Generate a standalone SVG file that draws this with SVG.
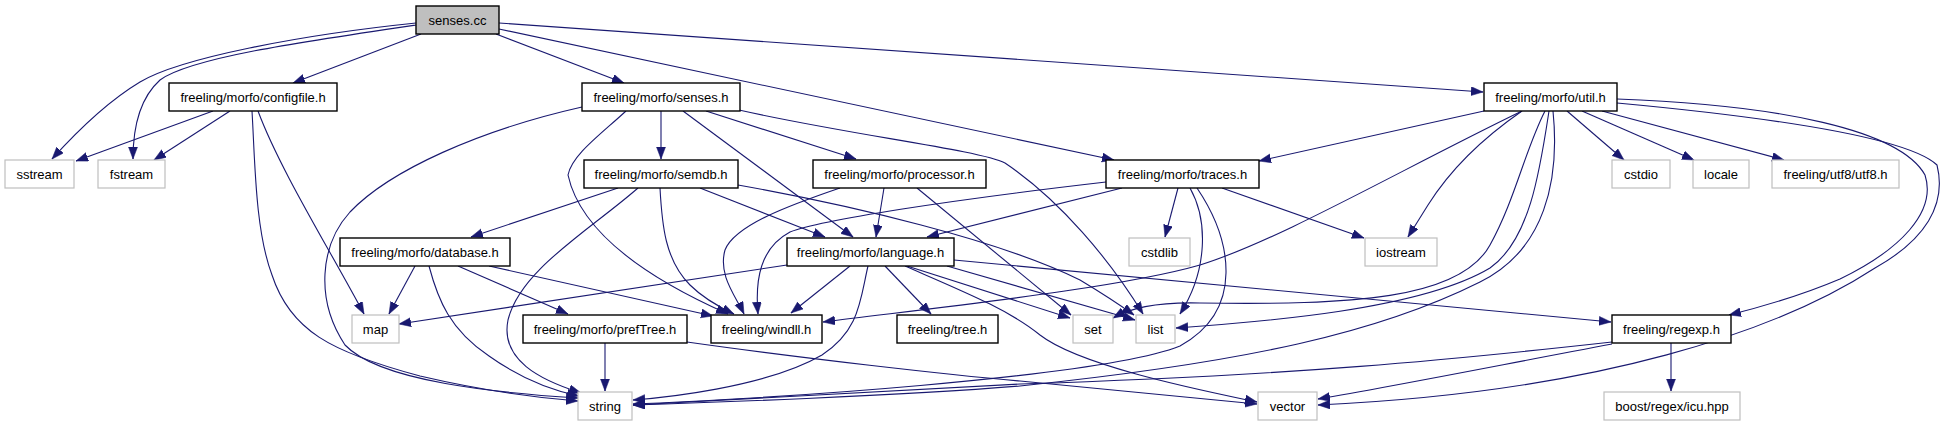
<svg xmlns="http://www.w3.org/2000/svg" width="1946" height="427" viewBox="0 0 1946 427">
<style>
.n rect{fill:#fff;stroke:#000;stroke-width:1.4}
.n.ext rect{stroke:#bfbfbf;stroke-width:1.2}
.n.root rect{fill:#bfbfbf}
.n text{font-family:"Liberation Sans",Arial,sans-serif;font-size:13px;fill:#000;text-anchor:middle}
.e path{fill:none;stroke:#191970;stroke-width:1.1;marker-end:url(#ah)}
</style>
<defs>
<marker id="ah" markerUnits="userSpaceOnUse" markerWidth="13" markerHeight="10" refX="12" refY="4.5" orient="auto">
<path d="M0,0 L12,4.5 L0,9 z" fill="#191970" stroke="#191970" stroke-width="0.5"/>
</marker>
</defs>
<rect width="1946" height="427" fill="#fff"/>
<g id="edges" class="e">
<!-- senses.cc -->
<path d="M416,23 C300,35 180,58 140,82 C110,100 80,128 52,159"/>
<path d="M416,25 C300,42 190,58 160,80 C140,98 133,125 133,159"/>
<path d="M421,34 L293,83"/>
<path d="M496,34 L624,83"/>
<path d="M499,29 L1114,160"/>
<path d="M499,23 L1483,92"/>
<!-- configfile.h -->
<path d="M213,111 L76,161"/>
<path d="M230,111 L154,160"/>
<path d="M252,111 C255,160 255,230 272,275 C290,330 330,352 420,376 C480,390 540,398 578,401"/>
<path d="M258,111 C280,170 330,250 364,314"/>
<!-- senses.h -->
<path d="M582,107 C480,130 390,170 350,212 C320,245 315,300 345,345 C380,382 500,393 578,398"/>
<path d="M626,111 C600,135 572,155 568,175 C580,230 640,275 728,314"/>
<path d="M661,111 L661,159"/>
<path d="M683,111 L853,237"/>
<path d="M706,111 L856,159"/>
<path d="M739,110 C850,135 980,150 1005,163 C1060,200 1110,260 1143,314"/>
<!-- semdb.h -->
<path d="M618,188 L471,237"/>
<path d="M638,188 C590,230 520,270 508,320 C500,360 540,380 581,393"/>
<path d="M660,188 C662,225 665,260 690,285 C700,295 715,305 734,314"/>
<path d="M700,188 L825,237"/>
<path d="M738,185 C850,205 1000,240 1080,280 C1100,292 1120,305 1134,315"/>
<!-- processor.h -->
<path d="M884,188 L876,237"/>
<path d="M917,188 L1071,315"/>
<path d="M840,188 C790,205 735,225 725,250 C718,275 735,295 744,314"/>
<!-- traces.h -->
<path d="M1106,182 C950,200 820,220 790,232 C760,248 755,280 758,314"/>
<path d="M1122,188 L927,237"/>
<path d="M1178,188 L1165,237"/>
<path d="M1190,188 C1208,220 1208,270 1180,314"/>
<path d="M1222,188 L1364,238"/>
<path d="M1197,188 C1232,240 1245,310 1180,346 C1100,378 750,400 633,404"/>
<!-- util.h -->
<path d="M1484,111 L1259,161"/>
<path d="M1522,111 C1400,170 1280,240 1200,265 C1120,288 950,306 823,322"/>
<path d="M1522,111 C1480,140 1450,170 1428,205 L1408,237"/>
<path d="M1545,111 C1525,150 1515,200 1490,245 C1460,300 1350,305 1200,303 C1160,302 1130,308 1113,318"/>
<path d="M1549,111 C1540,170 1530,240 1490,268 C1420,310 1260,322 1176,328"/>
<path d="M1553,111 C1560,180 1545,250 1480,282 C1380,332 1250,362 1020,386 C900,396 700,403 633,405"/>
<path d="M1567,111 L1624,160"/>
<path d="M1582,111 L1694,160"/>
<path d="M1602,111 L1784,160"/>
<path d="M1617,99 C1780,105 1900,130 1925,175 C1937,212 1900,250 1840,279 C1800,296 1765,306 1729,315"/>
<path d="M1617,103 C1800,120 1910,140 1937,165 C1947,205 1925,240 1875,268 C1780,330 1600,392 1318,405"/>
<!-- database.h -->
<path d="M415,266 L389,314"/>
<path d="M429,266 C438,300 450,330 489,356 C520,378 550,390 579,396"/>
<path d="M458,266 L568,314"/>
<path d="M489,266 L713,316"/>
<!-- language.h -->
<path d="M787,265 L399,324"/>
<path d="M850,266 L791,313"/>
<path d="M885,266 L931,314"/>
<path d="M907,266 L1070,318"/>
<path d="M947,266 L1135,320"/>
<path d="M868,266 C860,300 860,330 822,355 C765,388 660,398 633,400"/>
<path d="M905,266 C960,290 1010,310 1040,335 C1080,366 1200,390 1257,402"/>
<path d="M954,260 L1611,322"/>
<!-- prefTree.h -->
<path d="M605,343 L605,391"/>
<path d="M687,342 C800,358 950,375 1020,381 C1120,390 1200,398 1257,404"/>
<!-- regexp.h -->
<path d="M1612,342 C1450,360 1300,375 1020,384 C850,392 700,402 633,405"/>
<path d="M1612,344 C1500,365 1400,385 1318,399"/>
<path d="M1671,343 L1671,391"/>
</g>
<g id="senses_cc" class="n root"><rect x="416" y="6" width="83" height="28"/><text x="457.5" y="24.5">senses.cc</text></g>
<g id="configfile_h" class="n"><rect x="169" y="83" width="168" height="28"/><text x="253" y="101.5">freeling/morfo/configfile.h</text></g>
<g id="senses_h" class="n"><rect x="582" y="83" width="158" height="28"/><text x="661" y="101.5">freeling/morfo/senses.h</text></g>
<g id="util_h" class="n"><rect x="1484" y="83" width="133" height="28"/><text x="1550.5" y="101.5">freeling/morfo/util.h</text></g>
<g id="sstream" class="n ext"><rect x="5" y="160" width="69" height="28"/><text x="39.5" y="178.5">sstream</text></g>
<g id="fstream" class="n ext"><rect x="98" y="160" width="67" height="28"/><text x="131.5" y="178.5">fstream</text></g>
<g id="semdb_h" class="n"><rect x="584" y="160" width="154" height="28"/><text x="661" y="178.5">freeling/morfo/semdb.h</text></g>
<g id="processor_h" class="n"><rect x="813" y="160" width="173" height="28"/><text x="899.5" y="178.5">freeling/morfo/processor.h</text></g>
<g id="traces_h" class="n"><rect x="1106" y="160" width="153" height="28"/><text x="1182.5" y="178.5">freeling/morfo/traces.h</text></g>
<g id="cstdio" class="n ext"><rect x="1612" y="160" width="58" height="28"/><text x="1641" y="178.5">cstdio</text></g>
<g id="locale" class="n ext"><rect x="1693" y="160" width="56" height="28"/><text x="1721" y="178.5">locale</text></g>
<g id="utf8_h" class="n ext"><rect x="1772" y="160" width="127" height="28"/><text x="1835.5" y="178.5">freeling/utf8/utf8.h</text></g>
<g id="database_h" class="n"><rect x="340" y="238" width="170" height="28"/><text x="425" y="256.5">freeling/morfo/database.h</text></g>
<g id="language_h" class="n"><rect x="787" y="238" width="167" height="28"/><text x="870.5" y="256.5">freeling/morfo/language.h</text></g>
<g id="cstdlib" class="n ext"><rect x="1129" y="238" width="61" height="28"/><text x="1159.5" y="256.5">cstdlib</text></g>
<g id="iostream" class="n ext"><rect x="1365" y="238" width="72" height="28"/><text x="1401" y="256.5">iostream</text></g>
<g id="map" class="n ext"><rect x="352" y="315" width="47" height="28"/><text x="375.5" y="333.5">map</text></g>
<g id="prefTree_h" class="n"><rect x="523" y="315" width="164" height="28"/><text x="605" y="333.5">freeling/morfo/prefTree.h</text></g>
<g id="windll_h" class="n"><rect x="711" y="315" width="111" height="28"/><text x="766.5" y="333.5">freeling/windll.h</text></g>
<g id="tree_h" class="n"><rect x="897" y="315" width="101" height="28"/><text x="947.5" y="333.5">freeling/tree.h</text></g>
<g id="set" class="n ext"><rect x="1073" y="315" width="40" height="28"/><text x="1093" y="333.5">set</text></g>
<g id="list" class="n ext"><rect x="1136" y="315" width="39" height="28"/><text x="1155.5" y="333.5">list</text></g>
<g id="regexp_h" class="n"><rect x="1612" y="315" width="119" height="28"/><text x="1671.5" y="333.5">freeling/regexp.h</text></g>
<g id="string" class="n ext"><rect x="578" y="392" width="54" height="28"/><text x="605" y="410.5">string</text></g>
<g id="vector" class="n ext"><rect x="1258" y="392" width="59" height="28"/><text x="1287.5" y="410.5">vector</text></g>
<g id="boost_icu" class="n ext"><rect x="1604" y="392" width="136" height="28"/><text x="1672" y="410.5">boost/regex/icu.hpp</text></g>
</svg>
